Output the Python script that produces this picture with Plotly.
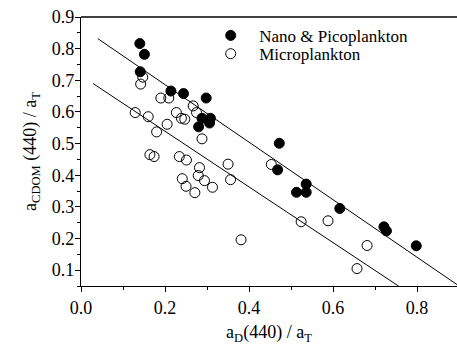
import plotly.graph_objects as go
import numpy as np

# Nano & Picoplankton (filled)
nano_x = [0.140, 0.151, 0.141, 0.214, 0.244, 0.298, 0.288, 0.308, 0.306, 0.280,
          0.472, 0.468, 0.536, 0.513, 0.536, 0.616, 0.721, 0.727, 0.798]
nano_y = [0.816, 0.782, 0.727, 0.666, 0.658, 0.644, 0.580, 0.580, 0.565, 0.553,
          0.501, 0.417, 0.372, 0.346, 0.346, 0.295, 0.237, 0.224, 0.177]

# Microplankton (open)
micro_x = [0.147, 0.142, 0.129, 0.160, 0.180, 0.164, 0.174, 0.190, 0.209, 0.205,
           0.227, 0.239, 0.247, 0.267, 0.275, 0.288, 0.234, 0.251, 0.282, 0.350,
           0.241, 0.250, 0.271, 0.279, 0.294, 0.313, 0.356, 0.381, 0.453,
           0.524, 0.588, 0.681, 0.657]
micro_y = [0.710, 0.688, 0.598, 0.585, 0.537, 0.465, 0.459, 0.644, 0.644, 0.561,
           0.598, 0.580, 0.577, 0.619, 0.598, 0.515, 0.459, 0.448, 0.424, 0.435,
           0.389, 0.365, 0.345, 0.399, 0.383, 0.362, 0.386, 0.196, 0.434,
           0.253, 0.256, 0.178, 0.105]

# Regression lines: intercept, slope, x-extent
nano_fit = dict(b=0.868, m=-0.909, x0=0.040, x1=0.900)
micro_fit = dict(b=0.715, m=-0.880, x0=0.0286, x1=0.756)

FONT = "Liberation Serif, DejaVu Serif, serif"

fig = go.Figure()
for fit in (nano_fit, micro_fit):
    fx = np.array([fit["x0"], fit["x1"]])
    fig.add_trace(go.Scatter(x=fx, y=fit["b"] + fit["m"] * fx, mode="lines",
                             line=dict(color="black", width=1), showlegend=False,
                             hoverinfo="skip"))

fig.add_trace(go.Scatter(x=nano_x, y=nano_y, mode="markers", name="  Nano &amp; Picoplankton",
                         legend="legend",
                         marker=dict(symbol="circle", size=10, color="black",
                                     line=dict(color="black", width=1))))
fig.add_trace(go.Scatter(x=micro_x, y=micro_y, mode="markers", name="  Microplankton",
                         legend="legend2",
                         marker=dict(symbol="circle-open", size=10, color="black",
                                     line=dict(color="black", width=1))))

leg_common = dict(xanchor="left", yanchor="middle", bgcolor="rgba(0,0,0,0)",
                  font=dict(family=FONT, size=17, color="black"), itemwidth=30)

fig.update_layout(
    template="none",
    width=457, height=356,
    margin=dict(l=81, r=0, t=17, b=70),
    paper_bgcolor="white", plot_bgcolor="white",
    font=dict(family=FONT, size=18, color="black"),
    legend=dict(x=0.345, y=0.93, **leg_common),
    legend2=dict(x=0.345, y=0.862, **leg_common),
    xaxis=dict(range=[0, 0.895], dtick=0.2, tick0=0, tickformat=".1f",
               showline=True, linecolor="black", linewidth=1.3, mirror=False,
               ticks="outside", ticklen=5, tickwidth=1.2, tickcolor="black",
               tickfont=dict(family=FONT, size=18),
               minor=dict(dtick=0.1, ticks="outside", ticklen=3, tickcolor="black", tickwidth=1),
               showgrid=False, zeroline=False,
               title=dict(text="a<sub>D</sub>(440) / a<sub>T</sub>", font=dict(family=FONT, size=18), standoff=8)),
    yaxis=dict(range=[0.05, 0.9], dtick=0.1, tick0=0, tickformat=".1f",
               showline=True, linecolor="black", linewidth=1.3, mirror=False,
               ticks="outside", ticklen=5, tickwidth=1.2, tickcolor="black",
               tickfont=dict(family=FONT, size=18), ticklabelstandoff=-3,
               minor=dict(dtick=0.05, ticks="outside", ticklen=3, tickcolor="black", tickwidth=1),
               showgrid=False, zeroline=False,
               title=dict(text="a<sub>CDOM</sub> (440) / a<sub>T</sub>", font=dict(family=FONT, size=18), standoff=10)),
    shapes=[dict(type="line", xref="paper", yref="paper", x0=0, x1=1, y0=1, y1=1,
                 line=dict(color="black", width=1.3))],
)

fig.write_html("out.html")
